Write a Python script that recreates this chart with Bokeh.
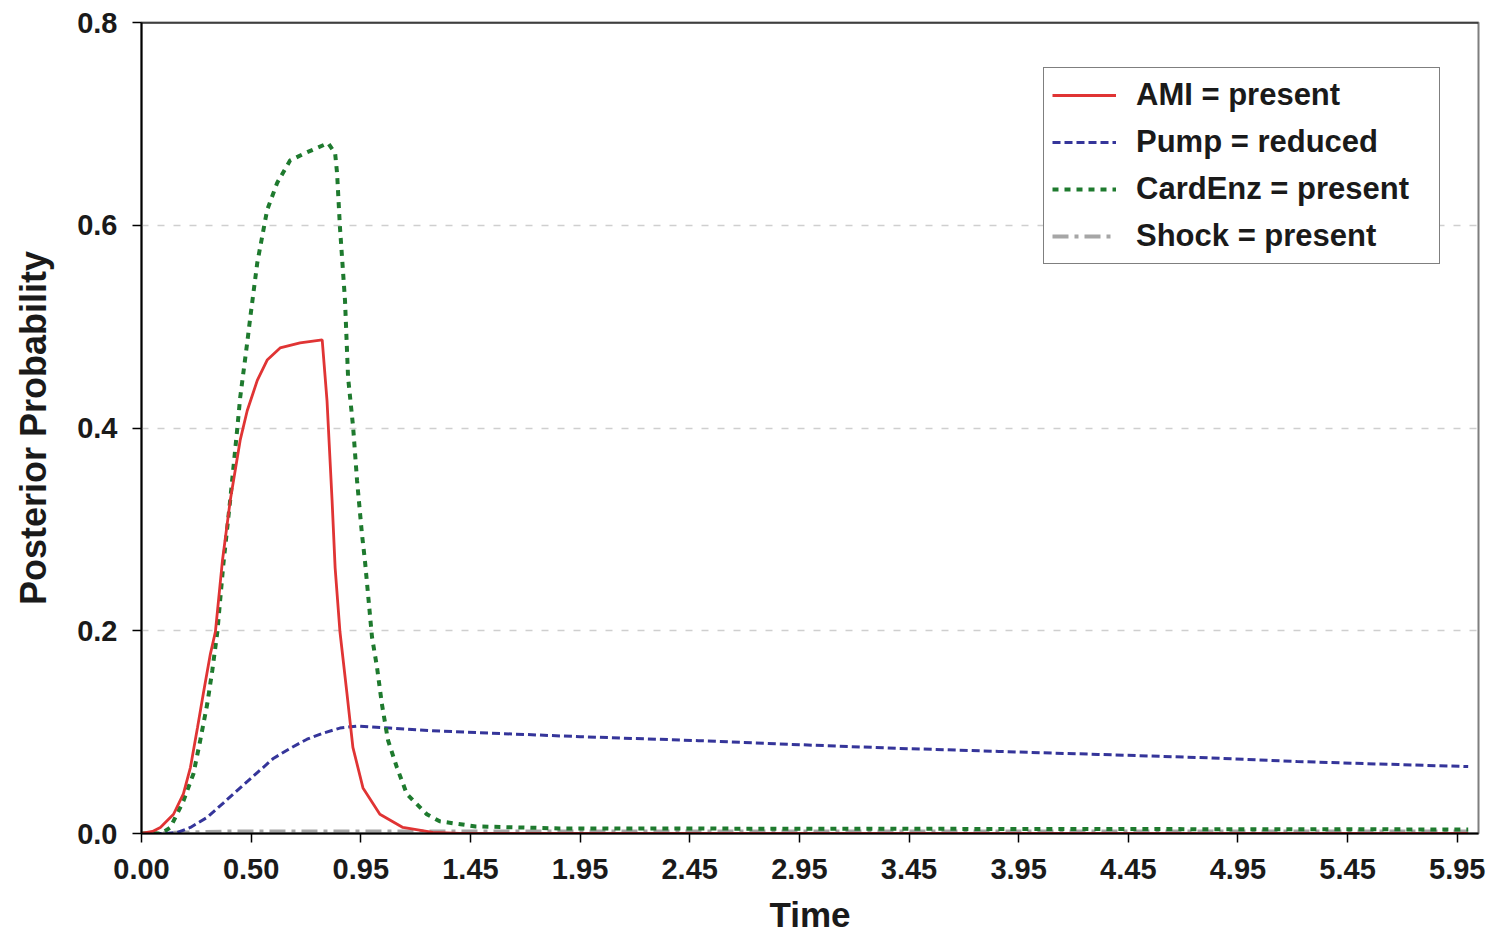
from bokeh.plotting import figure
from bokeh.models import Range1d, FixedTicker, NumeralTickFormatter, Legend, LegendItem, Span
from bokeh.embed import file_html
from bokeh.resources import INLINE

# ---- data ----
x_tick_pos = [0, 0.5, 1, 1.5, 2, 2.5, 3, 3.5, 4, 4.5, 5, 5.5, 6]
x_tick_labels = ["0.00", "0.50", "0.95", "1.45", "1.95", "2.45", "2.95",
                 "3.45", "3.95", "4.45", "4.95", "5.45", "5.95"]
y_ticks = [0.0, 0.2, 0.4, 0.6, 0.8]

ami_t = [0, 0.05, 0.086, 0.146, 0.191, 0.223, 0.255, 0.282, 0.314, 0.337, 0.369, 0.405,
         0.450, 0.482, 0.528, 0.573, 0.632, 0.723, 0.824, 0.846, 0.869, 0.883, 0.905,
         0.937, 0.964, 1.01, 1.087, 1.192, 1.328, 1.45, 6.05]
ami_v = [0, 0.002, 0.006, 0.019, 0.039, 0.065, 0.104, 0.138, 0.177, 0.199, 0.269, 0.329,
         0.388, 0.417, 0.447, 0.467, 0.479, 0.484, 0.487, 0.427, 0.329, 0.262, 0.199,
         0.138, 0.085, 0.045, 0.019, 0.006, 0.001, 0.0, 0.0]

pump_t = [0, 0.11, 0.164, 0.223, 0.300, 0.373, 0.450, 0.528, 0.601, 0.678, 0.755, 0.828,
          0.905, 0.983, 1.133, 1.360, 2.0, 2.54, 3.0, 3.45, 3.91, 4.36, 4.82, 5.27, 5.73, 6.05]
pump_v = [0, 0, 0.001, 0.006, 0.016, 0.030, 0.045, 0.060, 0.074, 0.084, 0.093, 0.099,
          0.104, 0.106, 0.104, 0.101, 0.0955, 0.0916, 0.0876, 0.084, 0.081, 0.078, 0.075,
          0.071, 0.068, 0.066]

card_t = [0, 0.09, 0.132, 0.191, 0.237, 0.268, 0.300, 0.323, 0.346, 0.373, 0.405, 0.437,
          0.450, 0.482, 0.496, 0.528, 0.573, 0.619, 0.678, 0.755, 0.851, 0.883, 0.892,
          0.905, 0.928, 0.942, 0.965, 0.983, 1.005, 1.019, 1.051, 1.074, 1.096, 1.124,
          1.165, 1.210, 1.301, 1.360, 1.524, 1.906, 6.05]
card_v = [0, 0.0, 0.006, 0.032, 0.059, 0.092, 0.128, 0.161, 0.199, 0.265, 0.33, 0.40,
          0.43, 0.484, 0.509, 0.563, 0.615, 0.642, 0.664, 0.672, 0.681, 0.671, 0.651,
          0.598, 0.526, 0.450, 0.401, 0.348, 0.296, 0.269, 0.194, 0.164, 0.128, 0.092,
          0.065, 0.039, 0.019, 0.012, 0.007, 0.005, 0.004]

shock_t = [0, 0.2, 0.4, 1.0, 2.0, 6.05]
shock_v = [0, 0.001, 0.002, 0.002, 0.002, 0.002]

labels = ["AMI = present", "Pump = reduced", "CardEnz = present", "Shock = present"]
x_title = "Time"
y_title = "Posterior Probability"

FONT = "Liberation Sans"
INK = "#1a1a1a"

p = figure(width=1486, height=936, output_backend="svg", toolbar_location=None,
           x_range=Range1d(0, 6.097), y_range=Range1d(0, 0.8),
           min_border_left=141, min_border_right=8, min_border_top=22, min_border_bottom=103)

p.background_fill_color = "white"
p.border_fill_color = "white"
p.outline_line_color = "#7f7f7f"
p.outline_line_width = 2

# axes
p.xaxis.ticker = FixedTicker(ticks=x_tick_pos)
p.xaxis.major_label_overrides = {k: v for k, v in zip(x_tick_pos, x_tick_labels)}
p.yaxis.ticker = FixedTicker(ticks=y_ticks)
p.yaxis.formatter = NumeralTickFormatter(format="0.0")

for ax in (p.xaxis, p.yaxis):
    ax.axis_line_color = "black"
    ax.axis_line_width = 2
    ax.major_tick_line_color = "black"
    ax.major_tick_line_width = 1.5
    ax.major_tick_in = 0
    ax.major_tick_out = 9
    ax.minor_tick_line_color = None
    ax.major_label_text_font = FONT
    ax.major_label_text_font_style = "bold"
    ax.major_label_text_font_size = "29px"
    ax.major_label_text_color = INK
    ax.axis_label_text_font = FONT
    ax.axis_label_text_font_style = "bold"
    ax.axis_label_text_color = INK

p.xaxis.axis_label = x_title
p.yaxis.axis_label = y_title
p.xaxis.axis_label_text_font_size = "35px"
p.yaxis.axis_label_text_font_size = "36px"
p.xaxis.major_label_standoff = 16
p.xaxis.axis_label_standoff = 13
p.yaxis.major_label_standoff = 15
p.yaxis.axis_label_standoff = 20

# grid
p.xgrid.grid_line_color = None
p.ygrid.grid_line_color = "#cfcfcf"
p.ygrid.grid_line_width = 1.5
p.ygrid.grid_line_dash = "7 9"

# top border in black
p.add_layout(Span(location=0.8, dimension="width", line_color="black", line_width=2))

# lines
r_shock = p.line(shock_t, shock_v, line_color="#a6a6a6", line_width=4, line_dash="16 6 4 6")
r_pump = p.line(pump_t, pump_v, line_color="#35359a", line_width=3, line_dash="8 4")
r_card = p.line(card_t, card_v, line_color="#1e7a2e", line_width=4, line_dash="6 6")
r_ami = p.line(ami_t, ami_v, line_color="#e03434", line_width=2.8)

legend = Legend(items=[
    LegendItem(label=labels[0], renderers=[r_ami]),
    LegendItem(label=labels[1], renderers=[r_pump]),
    LegendItem(label=labels[2], renderers=[r_card]),
    LegendItem(label=labels[3], renderers=[r_shock]),
], location=(902, 569))
legend.label_text_font = FONT
legend.label_text_font_style = "bold"
legend.label_text_font_size = "31px"
legend.label_text_color = INK
legend.border_line_color = "black"
legend.border_line_width = 1.5
legend.background_fill_color = "white"
legend.background_fill_alpha = 1.0
legend.padding = 8
legend.spacing = 9
legend.margin = 0
legend.glyph_height = 38
legend.glyph_width = 64
legend.label_standoff = 20
legend.label_width = 295
legend.label_height = 38
p.add_layout(legend, "center")

open("out.html", "w").write(file_html(p, INLINE))
